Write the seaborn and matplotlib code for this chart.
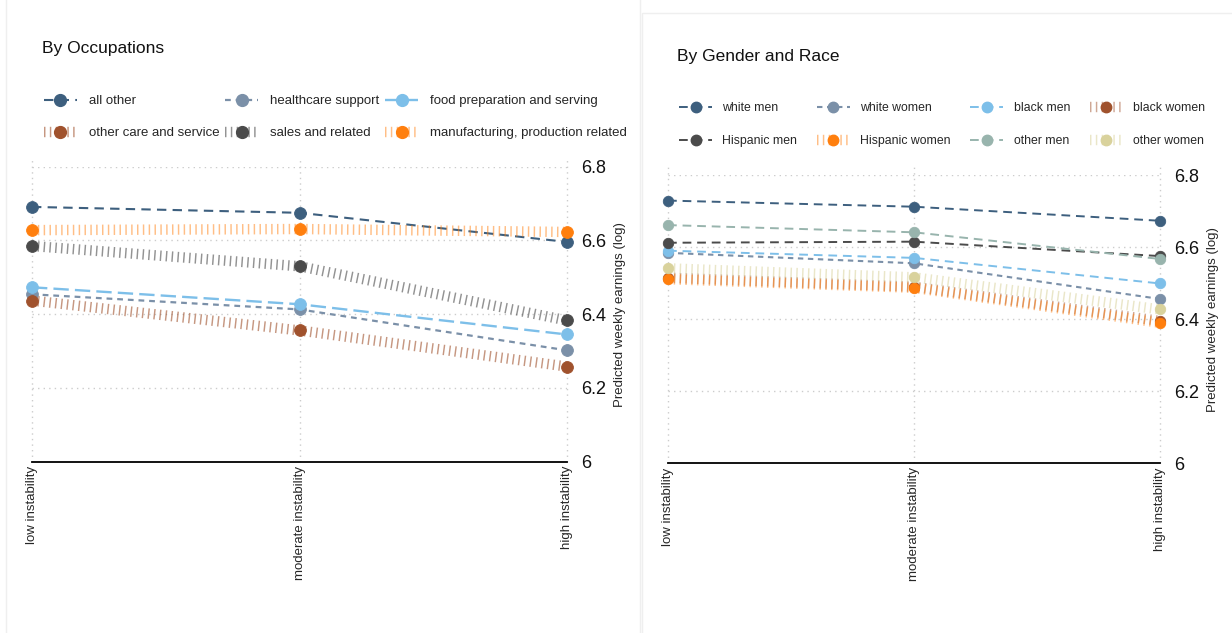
import matplotlib
matplotlib.use("Agg")
import matplotlib.pyplot as plt
import seaborn as sns
import numpy as np
import pandas as pd
from matplotlib.lines import Line2D
from matplotlib.patches import Rectangle
from matplotlib.colors import to_rgba

sns.set_theme(style="white")
plt.rcParams['font.family'] = ['Liberation Sans', 'DejaVu Sans']

# ---------------- data ----------------
categories = ["low instability", "moderate instability", "high instability"]

occ_names = ["all other", "healthcare support", "food preparation and serving",
             "other care and service", "sales and related", "manufacturing, production related"]
occ_all_other = [6.691, 6.675, 6.596]
occ_healthcare = [6.454, 6.413, 6.302]
occ_food = [6.473, 6.427, 6.345]
occ_other_care = [6.437, 6.356, 6.258]
occ_sales = [6.585, 6.530, 6.383]
occ_manufacturing = [6.628, 6.631, 6.623]

gr_names = ["white men", "white women", "black men", "black women",
            "Hispanic men", "Hispanic women", "other men", "other women"]
gr_white_men = [6.729, 6.712, 6.673]
gr_white_women = [6.584, 6.555, 6.456]
gr_black_men = [6.590, 6.570, 6.499]
gr_black_women = [6.515, 6.490, 6.395]
gr_hispanic_men = [6.612, 6.615, 6.575]
gr_hispanic_women = [6.511, 6.487, 6.390]
gr_other_men = [6.661, 6.641, 6.567]
gr_other_women = [6.541, 6.516, 6.427]

yticks = [6, 6.2, 6.4, 6.6, 6.8]
ytick_labels = ["6", "6.2", "6.4", "6.6", "6.8"]

# ---------------- styles ----------------
C_DBLUE = "#3d5f7e"
C_SLATE = "#7b90a8"
C_LBLUE = "#7dbfe9"
C_BROWN = "#a0522d"
C_DGRAY = "#4b4b4b"
C_ORANGE = "#ff7f0e"
C_GGREEN = "#98b4ad"
C_KHAKI = "#d9d29c"

HATCH = (0, (0.14, 0.42))
DASH = (0, (4.5, 3.0))
SHORT = (0, (2.6, 2.2))
LONG = (0, (6.5, 2.6))

occ_series = [
    (occ_all_other, C_DBLUE, DASH, 1.5, 1.0),
    (occ_healthcare, C_SLATE, SHORT, 1.6, 1.0),
    (occ_food, C_LBLUE, LONG, 1.7, 1.0),
    (occ_other_care, C_BROWN, HATCH, 7.5, 0.6),
    (occ_sales, C_DGRAY, HATCH, 7.5, 0.6),
    (occ_manufacturing, C_ORANGE, HATCH, 7.5, 0.5),
]
gr_series = [
    (gr_white_men, C_DBLUE, DASH, 1.4, 1.0),
    (gr_white_women, C_SLATE, SHORT, 1.5, 1.0),
    (gr_black_men, C_LBLUE, DASH, 1.4, 1.0),
    (gr_black_women, C_BROWN, HATCH, 7.5, 0.5),
    (gr_hispanic_men, C_DGRAY, DASH, 1.4, 1.0),
    (gr_hispanic_women, C_ORANGE, HATCH, 7.5, 0.5),
    (gr_other_men, C_GGREEN, DASH, 1.4, 1.0),
    (gr_other_women, C_KHAKI, HATCH, 7.5, 0.55),
]

fig = plt.figure(figsize=(12.32, 6.33), dpi=100)

# faint panel frames
fig.patches.append(Rectangle((6 / 1232, -0.01), (640 - 6) / 1232, 1.02, transform=fig.transFigure,
                             fill=False, edgecolor="#efefef", linewidth=1.0))
fig.patches.append(Rectangle((642 / 1232, -0.01), 0.6, 1 - 13 / 633 + 0.01, transform=fig.transFigure,
                             fill=False, edgecolor="#efefef", linewidth=1.0))

ax1 = fig.add_axes([32 / 1232, 1 - 461.7 / 633, (567 - 32) / 1232, (461.7 - 166.7) / 633])
ax2 = fig.add_axes([668 / 1232, 1 - 463.3 / 633, (1160 - 668) / 1232, (463.3 - 175) / 633])


def draw(ax, series, names, ms):
    xs = np.arange(len(categories))
    handles = []
    for (vals, col, ls, lw, a), name in zip(series, names):
        df = pd.DataFrame({"x": xs, "y": vals})
        sns.lineplot(data=df, x="x", y="y", ax=ax, color=col, linestyle=ls,
                     linewidth=lw, marker="o", markersize=ms, clip_on=False,
                     dash_capstyle="butt", solid_capstyle="butt")
        ln = ax.lines[-1]
        ln.set_color(to_rgba(col, a))
        ln.set_markerfacecolor(col)
        ln.set_markeredgecolor(col)
        ln.set_markeredgewidth(0.6)
        ln.set_zorder(3)
        handles.append(Line2D([], [], color=to_rgba(col, a), linestyle=ls, linewidth=lw,
                              marker="o", markersize=ms, markerfacecolor=col,
                              markeredgecolor=col, dash_capstyle="butt"))
    ax.set_xlim(0, len(categories) - 1)
    ax.set_ylim(6, 6.8)
    ax.set_xticks(xs)
    ax.set_xticklabels(categories, rotation=90, ha="center", va="top", fontsize=9.5)
    ax.set_yticks(yticks)
    ax.set_yticklabels(ytick_labels, fontsize=13)
    ax.yaxis.tick_right()
    ax.yaxis.set_label_position("right")
    ax.set_ylabel("Predicted weekly earnings (log)", fontsize=9.5, rotation=90, labelpad=6)
    ax.set_xlabel("")
    ax.tick_params(axis="y", length=0, pad=10, colors="#111111")
    ax.tick_params(axis="x", direction="in", length=5, width=1, color="black", pad=3)
    for s in ["left", "top", "right"]:
        ax.spines[s].set_visible(False)
    ax.spines["bottom"].set_color("black")
    ax.spines["bottom"].set_linewidth(1.3)
    for yv in yticks[1:]:
        ax.axhline(yv, color="#cccccc", linestyle=(0, (1, 3)), linewidth=1.0, zorder=1)
    for xv in xs:
        ax.axvline(xv, color="#cccccc", linestyle=(0, (1, 3)), linewidth=1.0, zorder=1, ymax=1.03, clip_on=False)
    ax.set_facecolor("none")
    return handles


def row_major(items, ncol):
    nrow = int(np.ceil(len(items) / ncol))
    out = []
    for c in range(ncol):
        for r in range(nrow):
            i = r * ncol + c
            if i < len(items):
                out.append(items[i])
    return out


h1 = draw(ax1, occ_series, occ_names, 8.5)
h2 = draw(ax2, gr_series, gr_names, 7.5)

fig.text(42 / 1232, 1 - 48 / 633, "By Occupations", fontsize=12.5, va="center", ha="left", color="#111111")
fig.text(677 / 1232, 1 - 57 / 633, "By Gender and Race", fontsize=12.5, va="center", ha="left", color="#111111")

fig.legend(handles=row_major(h1, 3), labels=row_major(occ_names, 3), ncol=3, loc="upper left",
           bbox_to_anchor=(44 / 1232, 1 - 95 / 633), frameon=False, fontsize=9.5,
           handlelength=2.5, handletextpad=0.9, columnspacing=0.45, labelspacing=1.5,
           borderpad=0, borderaxespad=0)
fig.legend(handles=row_major(h2, 4), labels=row_major(gr_names, 4), ncol=4, loc="upper left",
           bbox_to_anchor=(679 / 1232, 1 - 102 / 633), frameon=False, fontsize=8.8,
           handlelength=2.7, handletextpad=0.85, columnspacing=1.6, labelspacing=1.75,
           borderpad=0, borderaxespad=0)

fig.savefig("out.png", dpi=100)
